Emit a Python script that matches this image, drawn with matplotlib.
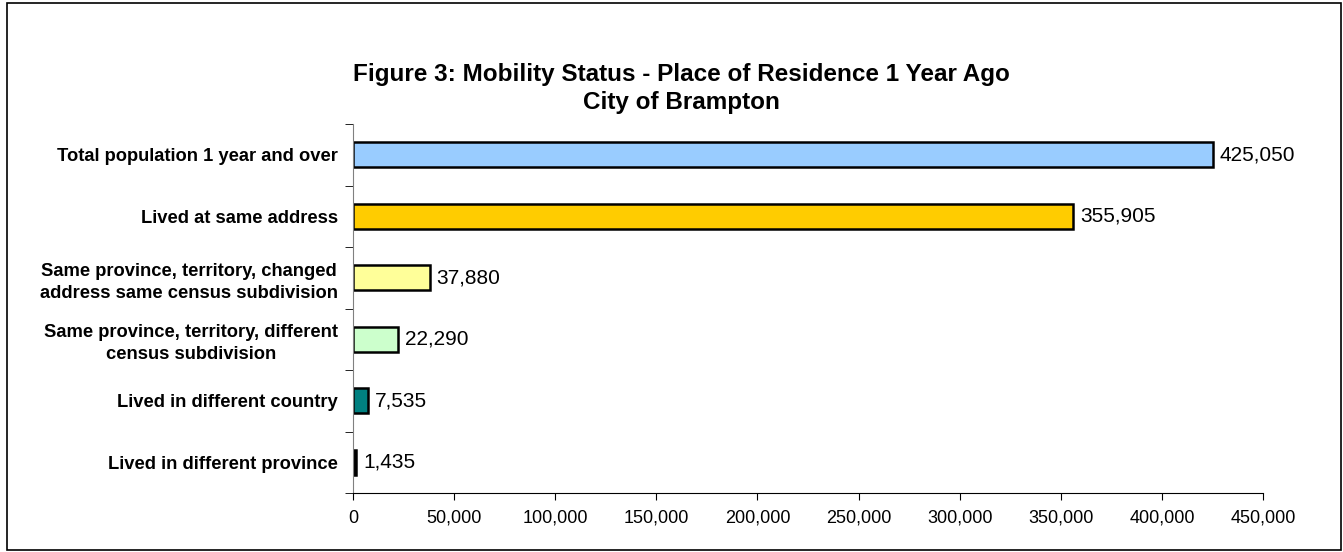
import matplotlib.pyplot as plt
from matplotlib.patches import Rectangle
from matplotlib.ticker import FuncFormatter, FixedLocator

plt.rcParams['font.family'] = ['Liberation Sans', 'DejaVu Sans']

# data (top to bottom)
labels = ["Total population 1 year and over",
          "Lived at same address",
          "Same province, territory, changed\naddress same census subdivision",
          "Same province, territory, different\ncensus subdivision",
          "Lived in different country",
          "Lived in different province"]
values = [425050, 355905, 37880, 22290, 7535, 1435]
colors = ["#99ccff", "#ffcc00", "#ffff99", "#ccffcc", "#008080", "#000000"]
xticks = [0, 50000, 100000, 150000, 200000, 250000, 300000, 350000, 400000, 450000]

fig = plt.figure(figsize=(13.43, 5.52), dpi=100)
ax = fig.add_axes([353/1343, 1-493/552, (1263-353)/1343, (493-124)/552])

# outer frame
fig.patches.append(Rectangle((7/1343, 2/552), 1334/1343, 547/552, transform=fig.transFigure,
                             fill=False, edgecolor='black', linewidth=1.2))

n = len(values)
ypos = list(range(n))[::-1]
ax.barh(ypos, values, height=0.41, color=colors, edgecolor='black', linewidth=1.8)

for y, v in zip(ypos, values):
    ax.text(v + 3500, y, f"{v:,}", va='center', ha='left', fontsize=15)

ax.set_xlim(0, 450000)
ax.set_ylim(-0.5, n - 0.5)
ax.set_xticks(xticks)
ax.xaxis.set_major_formatter(FuncFormatter(lambda x, p: f"{int(x):,}"))
ax.tick_params(axis='x', labelsize=13, length=5, direction='out', pad=7)

ax.set_yticks(ypos)
ax.set_yticklabels(labels, fontsize=13.2, fontweight='bold', ha='right',
                   multialignment='center', linespacing=1.4)
ax.tick_params(axis='y', which='major', length=0, pad=11)
ax.yaxis.set_minor_locator(FixedLocator([i - 0.5 for i in range(n + 1)]))
ax.tick_params(axis='y', which='minor', length=6, direction='out')

for s in ['top', 'right']:
    ax.spines[s].set_visible(False)
ax.spines['left'].set_color('#808080')

fig.text(681/1343, 1 - 75/552, "Figure 3: Mobility Status - Place of Residence 1 Year Ago",
         ha='center', va='center', fontsize=17.5, fontweight='bold')
fig.text(681/1343, 1 - 103/552, "City of Brampton",
         ha='center', va='center', fontsize=17.5, fontweight='bold')

fig.savefig("out.png", dpi=100)
